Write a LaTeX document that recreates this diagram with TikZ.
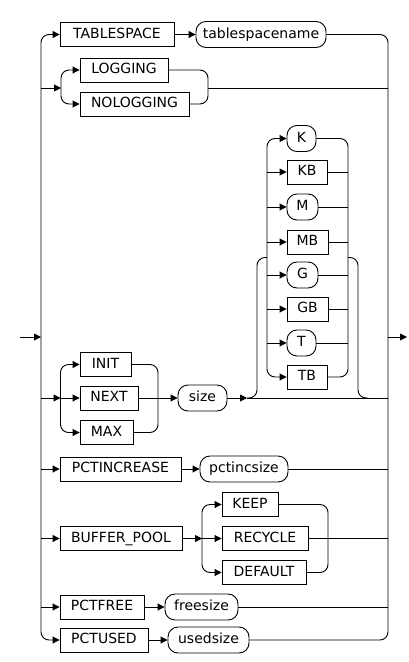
\documentclass[tikz,border=0pt]{standalone}
\usepackage{fontspec}
\setmainfont{DejaVu Sans}
\usetikzlibrary{arrows.meta, positioning}

\begin{document}
\begin{tikzpicture}[x=1pt, y=-1pt, line width=0.9pt,
    kw/.style={draw, rectangle, minimum height=24pt, inner sep=0pt, text height=10.5pt, text depth=3pt, font=\fontsize{14}{16}\selectfont},
    var/.style={draw, rounded corners=10pt, minimum height=26pt, inner sep=0pt, text height=10.5pt, text depth=3pt, font=\fontsize{14}{16}\selectfont},
    arr/.style={-{Triangle[length=7pt,width=7pt]}},
    rc/.style={rounded corners=8pt}]
\useasboundingbox (0,0) rectangle (408,662);

% main rails
\coordinate (start) at (20,337);
\coordinate (entry) at (41,337);
\coordinate (exit) at (388,337);
\coordinate (finish) at (407,337);
\draw[arr] (start) -- (entry);
\draw[arr] (exit) -- (finish);

% TABLESPACE
\node[kw, minimum width=114pt] (ts) at (117,34.5) {TABLESPACE};
\node[var, minimum width=130pt] (tsn) at (261,34.5) {tablespacename};
\draw[arr, rc] (entry) |- (ts.west);
\draw[arr] (ts.east) -- (tsn.west);
\draw[rc] (tsn.east) -| (exit);

% LOGGING / NOLOGGING
\node[kw, minimum width=88pt] (lg) at (124,70) {LOGGING};
\node[kw, minimum width=109pt] (nlg) at (134.5,104) {NOLOGGING};
\coordinate (lgin) at (61,88);
\coordinate (lgout) at (208,88);
\draw[arr] (entry |- lgin) -- (lgin);
\draw[arr, rc] (lgin) |- (lg.west);
\draw[arr, rc] (lgin) |- (nlg.west);
\draw[rc] (lg.east) -| (lgout);
\draw[rc] (nlg.east) -| (lgout);
\draw (lgout) -- (lgout -| exit);

% INIT / NEXT / MAX size
\node[kw, minimum width=51pt] (init) at (105.5,364.5) {INIT};
\node[kw, minimum width=58pt] (next) at (109,398) {NEXT};
\node[kw, minimum width=53pt] (max) at (106.5,432.5) {MAX};
\node[var, minimum width=49pt] (sz) at (202.5,398) {size};
\coordinate (inin) at (60.5,398);
\coordinate (inout) at (158,398);
\draw[arr] (entry |- inin) -- (inin);
\draw[arr, rc] (inin) |- (init.west);
\draw[arr] (inin) -- (next.west);
\draw[arr, rc] (inin) |- (max.west);
\draw[rc] (init.east) -| (inout);
\draw (next.east) -- (inout);
\draw[rc] (max.east) -| (inout);
\draw[arr] (inout) -- (sz.west);

% units
\node[var, minimum width=29pt] (uk) at (301.5,138.5) {K};
\node[kw, minimum width=40pt] (ukb) at (307,172) {KB};
\node[var, minimum width=31pt] (um) at (302.5,207) {M};
\node[kw, minimum width=41pt] (umb) at (307.5,242) {MB};
\node[var, minimum width=31pt] (ug) at (302.5,275) {G};
\node[kw, minimum width=41pt] (ugb) at (307.5,309) {GB};
\node[var, minimum width=29pt] (ut) at (301.5,343) {T};
\node[kw, minimum width=40pt] (utb) at (307,377) {TB};
\coordinate (unin) at (267,257.5);
\coordinate (unout) at (348,257.5);
\coordinate (optin) at (247,398);
\coordinate (optl) at (257,257.5);
\coordinate (optr) at (358,398);
\coordinate (optrj) at (368,398);
\draw[arr] (sz.east) -- (optin);
\draw (optin) -- (optin -| exit);
\draw[rc] (optin) -| (optl) -- (unin);
\draw[rc] (unout) -| (optr) -- (optrj);
\draw[arr, rc] (unin) |- (uk.west);
\draw[arr, rc] (unin) |- (utb.west);
\foreach \u in {ukb, um, umb, ug, ugb, ut}
  \draw[arr] (unin |- \u.west) -- (\u.west);
\draw[rc] (uk.east) -| (unout);
\draw[rc] (utb.east) -| (unout);
\foreach \u in {ukb, um, umb, ug, ugb, ut}
  \draw (\u.east) -- (\u.east -| unout);

% PCTINCREASE
\node[kw, minimum width=121pt] (pi) at (120.5,469) {PCTINCREASE};
\node[var, minimum width=88pt] (pis) at (244,469) {pctincsize};
\draw[arr] (entry |- pi.west) -- (pi.west);
\draw[arr] (pi.east) -- (pis.west);
\draw (pis.east) -- (pis.east -| exit);

% BUFFER_POOL
\node[kw, minimum width=122pt] (bp) at (121,538.5) {BUFFER\_POOL};
\node[kw, minimum width=56pt] (keep) at (250,504.5) {KEEP};
\node[kw, minimum width=86pt] (rec) at (265,538.5) {RECYCLE};
\node[kw, minimum width=84pt] (dft) at (264,572.5) {DEFAULT};
\coordinate (bpin) at (202,538.5);
\coordinate (bpout) at (328,538.5);
\draw[arr] (entry |- bp.west) -- (bp.west);
\draw[arr] (bp.east) -- (bpin);
\draw[arr, rc] (bpin) |- (keep.west);
\draw[arr] (bpin) -- (rec.west);
\draw[arr, rc] (bpin) |- (dft.west);
\draw[rc] (keep.east) -| (bpout);
\draw (rec.east) -- (bpout);
\draw[rc] (dft.east) -| (bpout);
\draw (bpout) -- (bpout -| exit);

% PCTFREE
\node[kw, minimum width=84pt] (pf) at (102,607) {PCTFREE};
\node[var, minimum width=73pt] (pfs) at (201.5,607) {freesize};
\draw[arr] (entry |- pf.west) -- (pf.west);
\draw[arr] (pf.east) -- (pfs.west);
\draw (pfs.east) -- (pfs.east -| exit);

% PCTUSED
\node[kw, minimum width=88pt] (pu) at (104,640) {PCTUSED};
\node[var, minimum width=81pt] (pus) at (208.5,640) {usedsize};
\draw[arr, rc] (entry) |- (pu.west);
\draw[arr] (pu.east) -- (pus.west);
\draw[rc] (pus.east) -| (exit);
\end{tikzpicture}
\end{document}
